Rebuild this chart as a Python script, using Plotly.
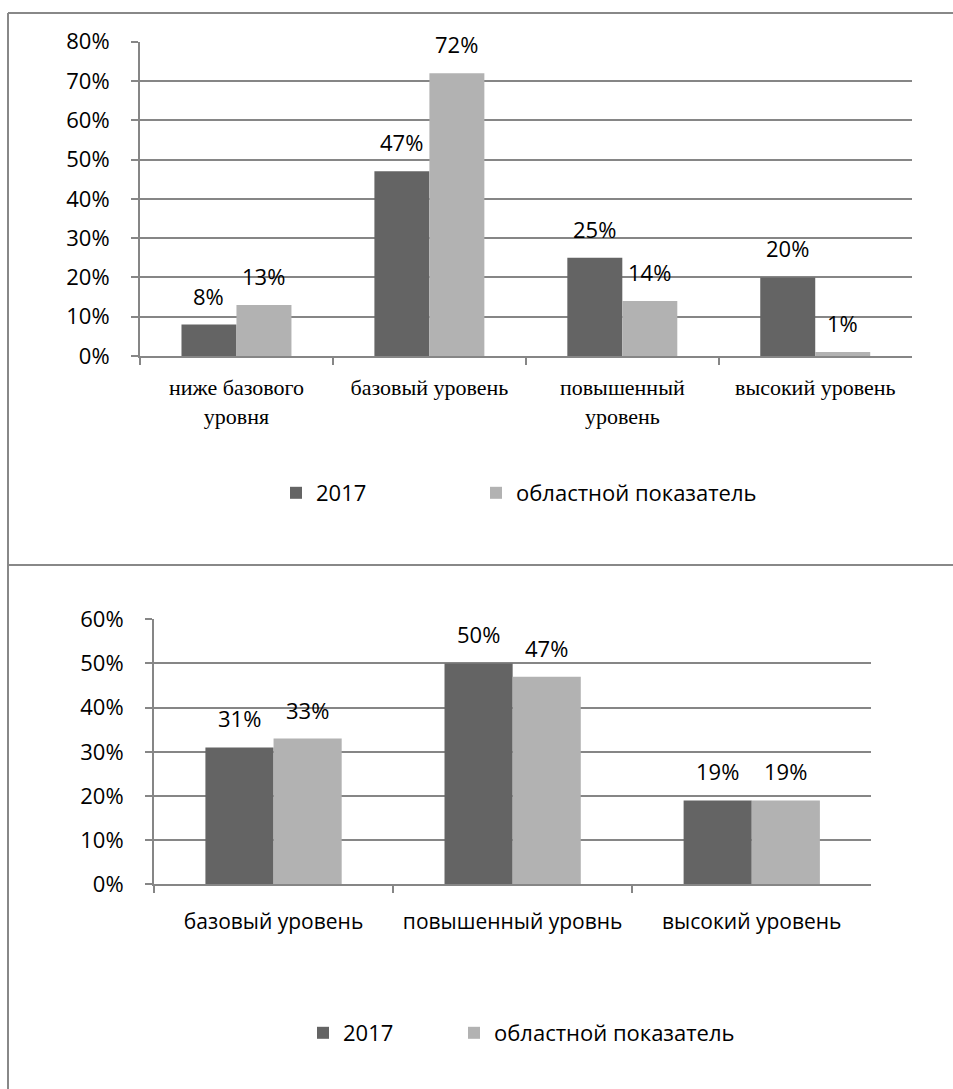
import plotly.graph_objects as go

# ---- data ----
cats_top = ["ниже базового<br>уровня", "базовый уровень", "повышенный<br>уровень", "высокий уровень"]
vals_top_2017 = [0.08, 0.47, 0.25, 0.20]
vals_top_region = [0.13, 0.72, 0.14, 0.01]

cats_bot = ["базовый уровень", "повышенный уровнь", "высокий уровень"]
vals_bot_2017 = [0.31, 0.50, 0.19]
vals_bot_region = [0.33, 0.47, 0.19]

series_names = ["2017", "областной показатель"]
colors = ["#646464", "#b2b2b2"]

W, H = 953, 1089
GRID = "#868686"
SANS = "Open Sans"
SERIF = "Liberation Serif"
BARGAP = 0.43

def px(x):
    return x / W

def py(y):
    return 1 - y / H

# plot-area pixel boxes
top_box = (140, 911.7, 41.7, 356.0)
bot_box = (154, 871.3, 619.3, 884.3)

fig = go.Figure()

top_legends = ["legend", "legend3"]
bot_legends = ["legend2", "legend4"]
for vals, name, col, lg in zip([vals_top_2017, vals_top_region], series_names, colors, top_legends):
    fig.add_trace(go.Bar(x=cats_top, y=vals, name=name, marker=dict(color=col, line=dict(width=0)),
                         xaxis="x", yaxis="y", legend=lg, hoverinfo="skip"))
for vals, name, col, lg in zip([vals_bot_2017, vals_bot_region], series_names, colors, bot_legends):
    fig.add_trace(go.Bar(x=cats_bot, y=vals, name=name, marker=dict(color=col, line=dict(width=0)),
                         xaxis="x2", yaxis="y2", legend=lg, hoverinfo="skip"))

annotations = []
def add_labels(cats, series, box, xref, yref):
    cat_w = (box[1] - box[0]) / len(cats)
    bar_w = cat_w * (1 - BARGAP) / 2
    for i, vals in enumerate(series):
        shift = (-0.5 if i == 0 else 0.5) * bar_w
        for c, v in zip(cats, vals):
            annotations.append(dict(x=c, y=v, xref=xref, yref=yref, text=f"{round(v*100)}%",
                                    showarrow=False, xshift=shift, yshift=12, yanchor="bottom",
                                    font=dict(family=SANS, size=22, color="#000")))

add_labels(cats_top, [vals_top_2017, vals_top_region], top_box, "x", "y")
add_labels(cats_bot, [vals_bot_2017, vals_bot_region], bot_box, "x2", "y2")

axis_common = dict(showline=True, linecolor=GRID, linewidth=2, ticks="outside", ticklen=7,
                   tickcolor=GRID, tickwidth=2, fixedrange=True, automargin=False)

def legend_at(x_left, y_mid):
    return dict(orientation="h", x=px(x_left), y=py(y_mid), xanchor="left", yanchor="middle",
                font=dict(family=SANS, size=22, color="#000"), itemwidth=30,
                bgcolor="rgba(0,0,0,0)", borderwidth=0)

fig.update_layout(
    width=W, height=H, margin=dict(l=0, r=0, t=0, b=0, autoexpand=False),
    paper_bgcolor="white", plot_bgcolor="white",
    barmode="group", bargap=BARGAP, bargroupgap=0,
    showlegend=True,
    xaxis=dict(domain=[px(top_box[0]), px(top_box[1])], anchor="y", tickson="boundaries", tickangle=0,
               tickfont=dict(family=SERIF, size=22, color="#000"), ticklabelstandoff=11, **axis_common),
    yaxis=dict(domain=[py(top_box[3]), py(top_box[2])], anchor="x", range=[0, 0.8], dtick=0.1,
               tickformat=".0%", showgrid=True, gridcolor=GRID, gridwidth=2, zeroline=False,
               tickfont=dict(family=SANS, size=22, color="#000"), ticklabelstandoff=17, **axis_common),
    xaxis2=dict(domain=[px(bot_box[0]), px(bot_box[1])], anchor="y2", tickson="boundaries", tickangle=0,
                tickfont=dict(family=SANS, size=21, color="#000"), ticklabelstandoff=17, **axis_common),
    yaxis2=dict(domain=[py(bot_box[3]), py(bot_box[2])], anchor="x2", range=[0, 0.6], dtick=0.1,
                tickformat=".0%", showgrid=True, gridcolor=GRID, gridwidth=2, zeroline=False,
                tickfont=dict(family=SANS, size=22, color="#000"), ticklabelstandoff=17, **axis_common),
    legend=legend_at(276, 493),
    legend3=legend_at(476, 493),
    legend2=legend_at(303, 1033),
    legend4=legend_at(454, 1033),
    annotations=annotations,
    shapes=[
        dict(type="line", xref="paper", yref="paper", x0=px(8), x1=1, y0=py(13), y1=py(13),
             line=dict(color="#888", width=2)),
        dict(type="line", xref="paper", yref="paper", x0=px(8), x1=px(8), y0=py(13), y1=0,
             line=dict(color="#888", width=2)),
        dict(type="line", xref="paper", yref="paper", x0=px(8), x1=1, y0=py(565), y1=py(565),
             line=dict(color="#888", width=2)),
    ],
)

fig.write_html("out.html", config={"displayModeBar": False},
               post_script="document.body.style.margin='0';document.body.style.overflow='hidden';")
